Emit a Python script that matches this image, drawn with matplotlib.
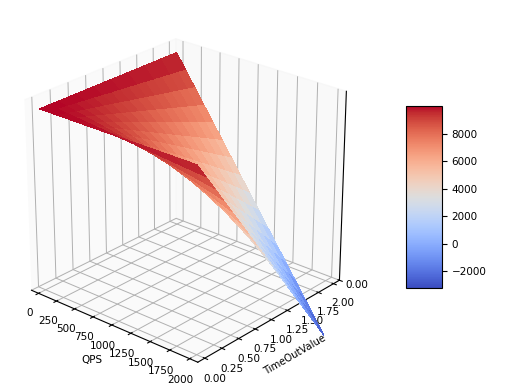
import numpy as np
import matplotlib
matplotlib.use("Agg")
import matplotlib.pyplot as plt
from matplotlib.ticker import FormatStrFormatter

plt.rcParams['grid.linewidth'] = 0.7

# values, rows = QPS, columns = TimeOutValue
qps = [0, 125, 250, 375, 500, 625, 750, 875, 1000, 1125, 1250, 1375, 1500, 1625, 1750, 1875, 2000]
timeout = [0, 0.125, 0.25, 0.375, 0.5, 0.625, 0.75, 0.875, 1.0, 1.125, 1.25, 1.375, 1.5, 1.625, 1.75, 1.875, 2.0]
z_rows = [
    [10000] * 17,
    [10000, 9948, 9897, 9845, 9794, 9742, 9691, 9639, 9588, 9536, 9484, 9433, 9381, 9330, 9278, 9227, 9175],
    [10000, 9897, 9794, 9691, 9588, 9484, 9381, 9278, 9175, 9072, 8969, 8866, 8763, 8659, 8556, 8453, 8350],
    [10000, 9845, 9691, 9536, 9381, 9227, 9072, 8917, 8763, 8608, 8453, 8298, 8144, 7989, 7834, 7680, 7525],
    [10000, 9794, 9588, 9381, 9175, 8969, 8763, 8556, 8350, 8144, 7938, 7731, 7525, 7319, 7113, 6906, 6700],
    [10000, 9742, 9484, 9227, 8969, 8711, 8453, 8195, 7938, 7680, 7422, 7164, 6906, 6648, 6391, 6133, 5875],
    [10000, 9691, 9381, 9072, 8763, 8453, 8144, 7834, 7525, 7216, 6906, 6597, 6288, 5978, 5669, 5359, 5050],
    [10000, 9639, 9278, 8917, 8556, 8195, 7834, 7473, 7113, 6752, 6391, 6030, 5669, 5308, 4947, 4586, 4225],
    [10000, 9588, 9175, 8763, 8350, 7938, 7525, 7113, 6700, 6288, 5875, 5463, 5050, 4638, 4225, 3813, 3400],
    [10000, 9536, 9072, 8608, 8144, 7680, 7216, 6752, 6288, 5823, 5359, 4895, 4431, 3967, 3503, 3039, 2575],
    [10000, 9484, 8969, 8453, 7938, 7422, 6906, 6391, 5875, 5359, 4844, 4328, 3813, 3297, 2781, 2266, 1750],
    [10000, 9433, 8866, 8298, 7731, 7164, 6597, 6030, 5463, 4895, 4328, 3761, 3194, 2627, 2059, 1492, 925],
    [10000, 9381, 8763, 8144, 7525, 6906, 6288, 5669, 5050, 4431, 3813, 3194, 2575, 1956, 1338, 719, 100],
    [10000, 9330, 8659, 7989, 7319, 6648, 5978, 5308, 4638, 3967, 3297, 2627, 1956, 1286, 616, -55, -725],
    [10000, 9278, 8556, 7834, 7113, 6391, 5669, 4947, 4225, 3503, 2781, 2059, 1338, 616, -106, -828, -1550],
    [10000, 9227, 8453, 7680, 6906, 6133, 5359, 4586, 3813, 3039, 2266, 1492, 719, -55, -828, -1602, -2375],
    [10000, 9175, 8350, 7525, 6700, 5875, 5050, 4225, 3400, 2575, 1750, 925, 100, -725, -1550, -2375, -3200],
]
x_ticks = [0, 250, 500, 750, 1000, 1250, 1500, 1750, 2000]
y_ticks = [0, 0.25, 0.5, 0.75, 1.0, 1.25, 1.5, 1.75, 2.0]
z_ticks = [0]
cbar_ticks = [-2000, 0, 2000, 4000, 6000, 8000]

fig = plt.figure(figsize=(5.12, 3.91), dpi=100)
ax = fig.add_axes([-0.006, 0.025, 0.72, 0.94], projection='3d')
ax.view_init(elev=25, azim=-49)
ax.set_box_aspect((4, 4, 3.75), zoom=1.0)

X, Y = np.meshgrid(qps, timeout, indexing='ij')
Z = np.array(z_rows)
surf = ax.plot_surface(X, Y, Z, cmap='coolwarm', vmin=-3200, vmax=10000,
                       rstride=1, cstride=1, linewidth=0, antialiased=False)

ax.set_xlim(-100, 2100)
ax.set_ylim(-0.1, 2.1)
ax.set_zlim(0, 10500)
ax.set_xticks(x_ticks)
ax.set_yticks(y_ticks)
ax.set_zticks(z_ticks)
ax.zaxis.set_major_formatter(FormatStrFormatter('%.2f'))
ax.yaxis.set_major_formatter(FormatStrFormatter('%.2f'))
ax.tick_params(labelsize=7.5, pad=0)
ax.set_xlabel('QPS', fontsize=7.5, labelpad=-3)
ax.set_ylabel('TimeOutValue', fontsize=7.2, labelpad=-2)

# panes are paler than the default ones
ax.xaxis.set_pane_color((0.97, 0.97, 0.97, 0.6))
ax.yaxis.set_pane_color((0.96, 0.96, 0.96, 0.6))
ax.zaxis.set_pane_color((0.97, 0.97, 0.97, 0.6))

cax = fig.add_axes([406 / 512, 1 - 288 / 391, 36 / 512, 182 / 391])
cbar = fig.colorbar(surf, cax=cax)
cbar.set_ticks(cbar_ticks)
cbar.ax.tick_params(labelsize=7.5)

fig.savefig('out.png', dpi=100)
